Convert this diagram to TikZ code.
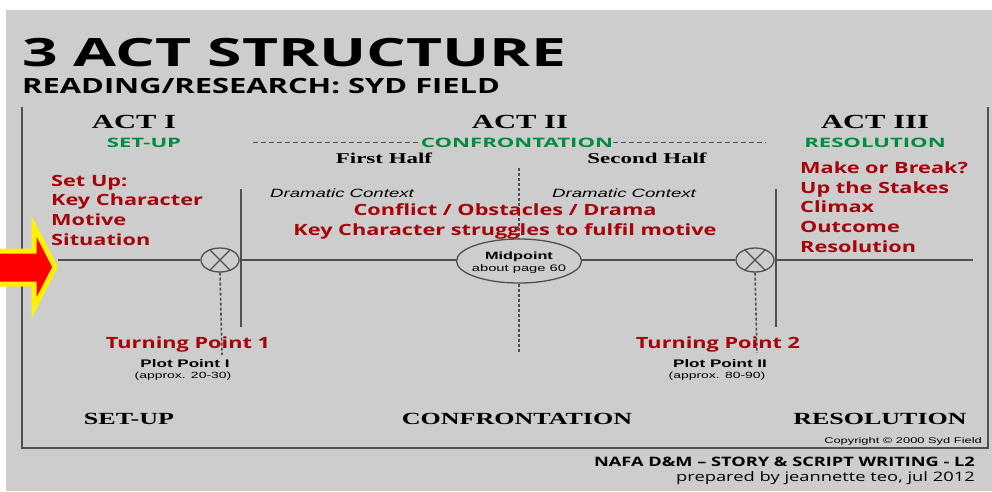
\documentclass[tikz,border=0pt]{standalone}
\usepackage{fontspec}
\usepackage{tikz}
\usetikzlibrary{shapes.geometric}
\newfontfamily\titlefont{Open Sans}[FakeStretch=1.6]
\newfontfamily\subfont{Open Sans}[FakeStretch=1.47]
\newfontfamily\notefont{Open Sans}[FakeStretch=1.4]
\newfontfamily\greenfont{Open Sans}[FakeStretch=1.7]
\newfontfamily\actfont{Liberation Serif}[FakeStretch=1.53]
\newfontfamily\chartfont{Liberation Sans}[FakeStretch=1.55]
\definecolor{slidegray}{RGB}{205,205,205}
\definecolor{linegray}{RGB}{80,80,80}
\definecolor{notered}{RGB}{165,5,10}
\definecolor{actgreen}{RGB}{0,140,60}
\tikzset{
	axis/.style={draw=linegray, line width=1.6pt},
	guide/.style={draw=linegray, line width=1.6pt, dash pattern=on 3pt off 2pt},
	topdash/.style={draw=linegray, line width=1pt, dash pattern=on 5pt off 3pt},
	plotpoint/.style={ellipse, draw=linegray, line width=1.3pt, minimum width=38pt, minimum height=24pt, inner sep=0pt},
	midbox/.style={ellipse, draw=linegray, line width=1.3pt, minimum width=125pt, minimum height=44pt, inner sep=0pt},
	acttitle/.style={font=\actfont\bfseries\fontsize{20}{24}\selectfont, inner sep=0pt, anchor=base},
	halftitle/.style={font=\actfont\bfseries\fontsize{15}{18}\selectfont, inner sep=0pt, anchor=base},
	bottomtitle/.style={font=\actfont\bfseries\fontsize{17}{20}\selectfont, inner sep=0pt, anchor=base},
	greenlabel/.style={font=\greenfont\bfseries\fontsize{13}{16}\selectfont, text=actgreen, inner sep=0pt, anchor=base},
	rednote/.style={font=\notefont\bfseries\fontsize{15.5}{19.6}\selectfont, text=notered, inner sep=0pt},
	context/.style={font=\chartfont\itshape\fontsize{12}{14}\selectfont, inner sep=0pt, anchor=base},
	plotlabel/.style={font=\chartfont\bfseries\fontsize{11}{13}\selectfont, inner sep=0pt, anchor=base},
	approxlabel/.style={font=\chartfont\fontsize{9}{11}\selectfont, inner sep=0pt, anchor=base},
}
\begin{document}
\begin{tikzpicture}[x=1pt, y=-1pt]
	\useasboundingbox (0,0) rectangle (992,491);
	\fill[white] (0,0) rectangle (992,491);
	\fill[slidegray] (6,10) rectangle (992,491);
	% headings
	\node[font=\titlefont\bfseries\fontsize{39}{44}\selectfont, inner sep=0pt, anchor=base west] (title) at (22,66) {3 ACT STRUCTURE};
	\node[font=\subfont\bfseries\fontsize{21}{25}\selectfont, inner sep=0pt, anchor=base west] (subtitle) at (22,93) {READING/RESEARCH: SYD FIELD};
	% frame
	\draw[axis] (22,107) -- (22,448) -- (988,448) -- (988,107);
	% acts
	\node[acttitle] (actone) at (134,128) {ACT I};
	\node[acttitle] (acttwo) at (520,128) {ACT II};
	\node[acttitle] (actthree) at (875,128) {ACT III};
	\node[greenlabel] (setupg) at (144,147) {SET-UP};
	\node[greenlabel] (confrontg) at (517,147) {CONFRONTATION};
	\node[greenlabel] (resolutiong) at (875,147) {RESOLUTION};
	\coordinate (dashstart) at (253,142);
	\coordinate (dashend) at (766,142);
	\draw[topdash] (dashstart) -- (dashstart -| confrontg.west);
	\draw[topdash] (dashend -| confrontg.east) -- (dashend);
	\node[halftitle] (firsthalf) at (384,163) {First Half};
	\node[halftitle] (secondhalf) at (647,163) {Second Half};
	% plot points and midpoint
	\node[plotpoint] (tpone) at (220,260) {};
	\node[plotpoint] (tptwo) at (755,260) {};
	\draw[linegray, line width=1.1pt] (tpone.45) -- (tpone.225) (tpone.135) -- (tpone.315);
	\draw[linegray, line width=1.1pt] (tptwo.45) -- (tptwo.225) (tptwo.135) -- (tptwo.315);
	\node[midbox] (mid) at (519,261) {};
	\node[plotlabel, font=\chartfont\bfseries\fontsize{10.5}{12}\selectfont] (midname) at (519,259) {Midpoint};
	\node[approxlabel, font=\chartfont\fontsize{9.5}{11}\selectfont] (midpage) at (519,271) {about page 60};
	% story line
	\coordinate (linestart) at (58,260);
	\coordinate (lineend) at (973,260);
	\draw[axis] (linestart) -- (tpone.west);
	\draw[axis] (tpone.east) -- (tpone.east -| mid.west);
	\draw[axis] (tptwo.west -| mid.east) -- (tptwo.west);
	\draw[axis] (tptwo.east) -- (lineend);
	\draw[axis] (241,189) -- (241,327);
	\draw[axis] (776,189) -- (776,327);
	\draw[guide] (tpone.south) -- (222,355);
	\draw[guide] (tptwo.south) -- (757,353);
	\draw[guide] (519,168) -- (mid.north);
	\draw[guide] (mid.south) -- (519,352);
	% arrow
	\draw[yellow, fill=red, line width=5pt, line join=miter]
		(-6,251) -- (34,251) -- (34,226) -- (55,267) -- (34,308) -- (34,284) -- (-6,284) -- cycle;
	% notes
	\node[rednote, anchor=base west, align=left] (setuplist) at (51,245) {Set Up:\\Key Character\\Motive\\Situation};
	\node[rednote, anchor=base west, align=left] (resolvelist) at (800,252) {Make or Break?\\Up the Stakes\\Climax\\Outcome\\Resolution};
	\node[context] (ctxone) at (342,197) {Dramatic Context};
	\node[context] (ctxtwo) at (624,197) {Dramatic Context};
	\node[rednote, anchor=base, align=center] (conflict) at (505,235) {Conflict / Obstacles / Drama\\Key Character struggles to fulfil motive};
	\node[rednote, anchor=base] (turnone) at (188,348) {Turning Point 1};
	\node[rednote, anchor=base] (turntwo) at (718,348) {Turning Point 2};
	\node[plotlabel] (plotone) at (185,367) {Plot Point I};
	\node[plotlabel] (plottwo) at (720,367) {Plot Point II};
	\node[approxlabel] (approxone) at (183,378) {(approx. 20-30)};
	\node[approxlabel] (approxtwo) at (717,378) {(approx. 80-90)};
	% bottom
	\node[bottomtitle] (setupb) at (129,424) {SET-UP};
	\node[bottomtitle] (confrontb) at (517,424) {CONFRONTATION};
	\node[bottomtitle] (resolutionb) at (880,424) {RESOLUTION};
	\node[approxlabel, font=\chartfont\fontsize{8.3}{10}\selectfont, anchor=base east] (copyright) at (982,443) {Copyright © 2000 Syd Field};
	\node[font=\notefont\bfseries\fontsize{13}{15}\selectfont, inner sep=0pt, anchor=base east] (footone) at (975,466) {NAFA D\&M – STORY \& SCRIPT WRITING - L2};
	\node[font=\notefont\fontsize{13.1}{15}\selectfont, inner sep=0pt, anchor=base east] (foottwo) at (975,481) {prepared by jeannette teo, jul 2012};
\end{tikzpicture}
\end{document}
